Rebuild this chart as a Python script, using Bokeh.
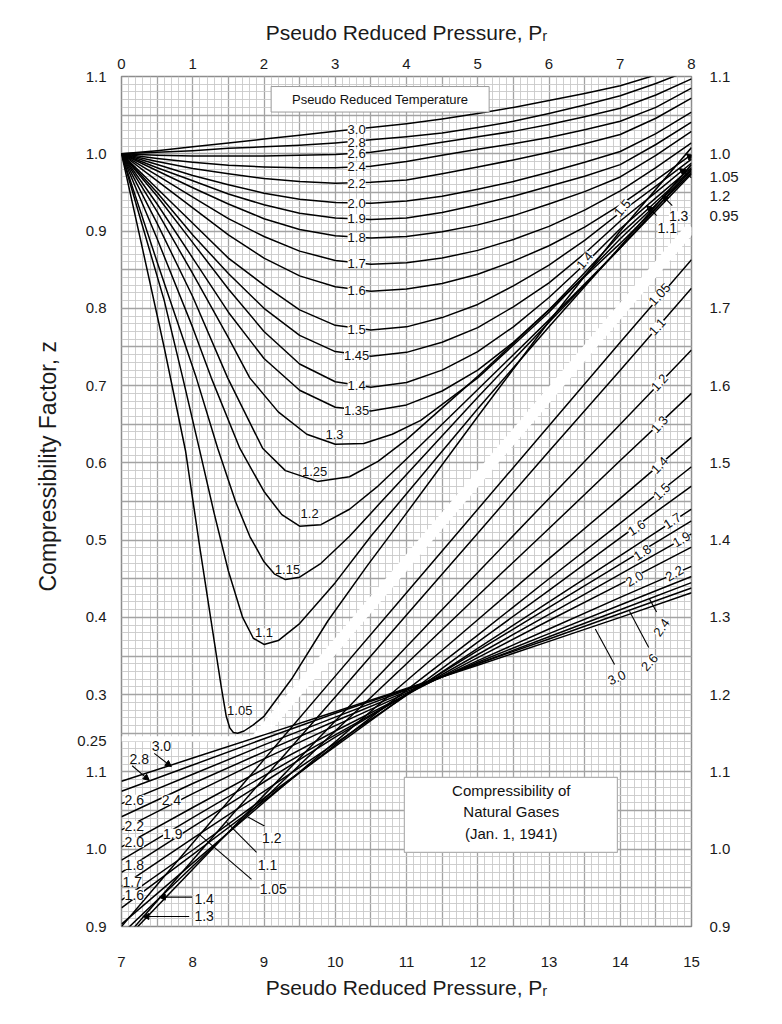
from bokeh.plotting import figure
from bokeh.models import (Range1d, FixedTicker, SingleIntervalTicker, LinearAxis, Grid, Title,
                          ColumnDataSource, LabelSet, Label, Arrow, NormalHead)
from bokeh.core.properties import value
from bokeh.embed import file_html
from bokeh.resources import INLINE

# ---------------- data: low pressure section (Pr 0-8, z on left scale) ----------------
P_LO = [0, 0.5, 1.0, 1.5, 2.0, 2.5, 3.0, 3.5, 4.0, 4.5, 5.0, 5.5, 6.0, 6.5, 7.0, 7.5, 8.0]
z_lo_300 = [1.0, 1.004, 1.009, 1.014, 1.019, 1.024, 1.029, 1.034, 1.039, 1.045, 1.052, 1.060, 1.069, 1.078, 1.088, 1.102, 1.118]
z_lo_280 = [1.0, 1.002, 1.004, 1.007, 1.009, 1.011, 1.014, 1.018, 1.022, 1.027, 1.034, 1.042, 1.052, 1.063, 1.075, 1.091, 1.109]
z_lo_260 = [1.0, 0.998, 0.997, 0.997, 0.997, 0.998, 0.999, 1.002, 1.008, 1.015, 1.022, 1.029, 1.038, 1.048, 1.059, 1.076, 1.097]
z_lo_240 = [1.0, 0.994, 0.989, 0.985, 0.983, 0.982, 0.982, 0.984, 0.990, 0.998, 1.006, 1.013, 1.021, 1.031, 1.042, 1.060, 1.085]
z_lo_220 = [1.0, 0.990, 0.981, 0.974, 0.968, 0.964, 0.962, 0.963, 0.966, 0.974, 0.983, 0.992, 1.002, 1.013, 1.025, 1.046, 1.072]
z_lo_200 = [1.0, 0.986, 0.972, 0.960, 0.949, 0.941, 0.937, 0.936, 0.939, 0.945, 0.954, 0.964, 0.976, 0.989, 1.003, 1.026, 1.054]
z_lo_190 = [1.0, 0.982, 0.965, 0.948, 0.934, 0.923, 0.917, 0.915, 0.917, 0.924, 0.934, 0.945, 0.958, 0.971, 0.986, 1.012, 1.041]
z_lo_180 = [1.0, 0.978, 0.956, 0.935, 0.916, 0.902, 0.894, 0.891, 0.893, 0.899, 0.908, 0.920, 0.935, 0.951, 0.970, 0.998, 1.029]
z_lo_170 = [1.0, 0.972, 0.944, 0.916, 0.893, 0.874, 0.862, 0.857, 0.859, 0.865, 0.875, 0.889, 0.906, 0.927, 0.952, 0.982, 1.014]
z_lo_160 = [1.0, 0.965, 0.930, 0.895, 0.865, 0.842, 0.828, 0.822, 0.825, 0.832, 0.844, 0.861, 0.881, 0.905, 0.934, 0.966, 0.999]
z_lo_150 = [1.0, 0.955, 0.910, 0.865, 0.830, 0.798, 0.778, 0.772, 0.776, 0.788, 0.805, 0.829, 0.856, 0.888, 0.924, 0.958, 0.993]
z_lo_145 = [1.0, 0.950, 0.895, 0.845, 0.800, 0.765, 0.744, 0.738, 0.743, 0.756, 0.775, 0.802, 0.833, 0.871, 0.913, 0.950, 0.988]
z_lo_140 = [1.0, 0.945, 0.885, 0.825, 0.770, 0.728, 0.705, 0.698, 0.704, 0.720, 0.744, 0.776, 0.814, 0.857, 0.903, 0.943, 0.982]
z_lo_135 = [1.0, 0.935, 0.865, 0.795, 0.735, 0.694, 0.672, 0.667, 0.675, 0.693, 0.720, 0.756, 0.798, 0.846, 0.896, 0.938, 0.980]

pr_lo_130 = [0, 0.5, 1.0, 1.5, 1.8, 2.2, 2.6, 3.0, 3.4, 3.8, 4.2, 5.0, 6.0, 7.0, 8.0]
z_lo_130 = [1.0, 0.925, 0.845, 0.762, 0.71, 0.666, 0.637, 0.624, 0.625, 0.637, 0.655, 0.710, 0.795, 0.890, 0.978]
pr_lo_125 = [0, 0.5, 1.0, 1.49, 1.98, 2.3, 2.75, 3.2, 3.6, 4.0, 5.0, 6.0, 7.0, 8.0]
z_lo_125 = [1.0, 0.91, 0.815, 0.71, 0.619, 0.59, 0.576, 0.582, 0.602, 0.63, 0.712, 0.798, 0.884, 0.976]
pr_lo_120 = [0, 0.5, 1.0, 1.26, 1.66, 2.0, 2.25, 2.5, 2.8, 3.2, 3.6, 4.0, 5.0, 6.0, 7.0, 8.0]
z_lo_120 = [1.0, 0.89, 0.775, 0.71, 0.619, 0.563, 0.533, 0.518, 0.52, 0.54, 0.57, 0.605, 0.695, 0.785, 0.878, 0.974]
pr_lo_115 = [0, 0.25, 0.5, 1.05, 1.35, 1.6, 1.8, 2.0, 2.15, 2.3, 2.5, 2.8, 3.2, 3.6, 4.0, 5.0, 6.0, 7.0, 8.0]
z_lo_115 = [1.0, 0.93, 0.86, 0.71, 0.619, 0.55, 0.505, 0.472, 0.456, 0.449, 0.452, 0.47, 0.505, 0.545, 0.585, 0.685, 0.782, 0.878, 0.98]
pr_lo_110 = [0, 0.3, 0.6, 0.86, 1.09, 1.3, 1.5, 1.7, 1.85, 2.0, 2.2, 2.5, 3.0, 3.5, 4.0, 5.0, 6.0, 7.0, 8.0]
z_lo_110 = [1.0, 0.905, 0.81, 0.71, 0.619, 0.535, 0.46, 0.40, 0.373, 0.365, 0.37, 0.392, 0.445, 0.505, 0.56, 0.67, 0.776, 0.88, 0.986]
pr_lo_105 = [0, 0.3, 0.6, 0.9, 1.1, 1.25, 1.4, 1.47, 1.52, 1.57, 1.63, 1.72, 1.85, 2.0, 2.4, 2.9, 3.45, 4.0, 5.0, 6.0, 7.0, 8.0]
z_lo_105 = [1.0, 0.875, 0.749, 0.615, 0.49, 0.40, 0.31, 0.272, 0.257, 0.251, 0.25, 0.253, 0.261, 0.272, 0.322, 0.396, 0.467, 0.535, 0.66, 0.783, 0.90, 1.008]

# ---------------- data: high pressure section (Pr 7-15, z on right / lower scale) ----------------
P_HI = [7, 8, 9, 10, 11, 12, 13, 14, 15]
z_hi_105 = [0.900, 1.008, 1.116, 1.224, 1.332, 1.440, 1.548, 1.656, 1.763]
z_hi_110 = [0.880, 0.986, 1.092, 1.197, 1.303, 1.409, 1.515, 1.620, 1.726]
z_hi_120 = [0.878, 0.974, 1.070, 1.166, 1.262, 1.358, 1.454, 1.550, 1.646]
z_hi_130 = [0.890, 0.978, 1.065, 1.153, 1.240, 1.328, 1.415, 1.503, 1.590]
z_hi_140 = [0.903, 0.982, 1.061, 1.139, 1.218, 1.297, 1.376, 1.454, 1.533]
z_hi_150 = [0.924, 0.993, 1.063, 1.135, 1.206, 1.277, 1.350, 1.422, 1.495]
z_hi_160 = [0.934, 0.999, 1.066, 1.133, 1.200, 1.268, 1.335, 1.403, 1.470]
z_hi_170 = [0.952, 1.014, 1.075, 1.137, 1.199, 1.260, 1.320, 1.380, 1.440]
z_hi_180 = [0.970, 1.029, 1.087, 1.145, 1.200, 1.257, 1.313, 1.369, 1.425]
z_hi_190 = [0.986, 1.041, 1.095, 1.148, 1.200, 1.252, 1.304, 1.356, 1.408]
z_hi_200 = [1.003, 1.054, 1.104, 1.153, 1.200, 1.248, 1.296, 1.343, 1.391]
z_hi_220 = [1.025, 1.072, 1.117, 1.160, 1.202, 1.244, 1.285, 1.326, 1.366]
z_hi_240 = [1.042, 1.085, 1.126, 1.166, 1.204, 1.242, 1.279, 1.316, 1.353]
z_hi_260 = [1.059, 1.097, 1.135, 1.171, 1.206, 1.240, 1.275, 1.310, 1.345]
z_hi_280 = [1.075, 1.109, 1.143, 1.176, 1.207, 1.240, 1.272, 1.305, 1.338]
z_hi_300 = [1.088, 1.118, 1.148, 1.178, 1.208, 1.238, 1.269, 1.300, 1.332]

# ---------------- tick labels ----------------
top_ticks = [0, 1, 2, 3, 4, 5, 6, 7, 8]
top_labels = ["0", "1", "2", "3", "4", "5", "6", "7", "8"]
bottom_labels = ["7", "8", "9", "10", "11", "12", "13", "14", "15"]
left_ticks = [0.0, 0.1, 0.2, 0.24, 0.3, 0.4, 0.5, 0.6, 0.7, 0.8, 0.9, 1.0, 1.1]
left_labels = ["0.9", "1.0", "1.1", "0.25", "0.3", "0.4", "0.5", "0.6", "0.7", "0.8", "0.9", "1.0", "1.1"]
right_ticks = [0.0, 0.1, 0.2, 0.3, 0.4, 0.5, 0.6, 0.7, 0.8, 0.92, 0.945, 0.97, 1.0, 1.1]
right_labels = ["0.9", "1.0", "1.1", "1.2", "1.3", "1.4", "1.5", "1.6", "1.7", "0.95", "1.2", "1.05", "1.0", "1.1"]

FONT = "Liberation Sans"
HI_OFFSET_X = 7.0   # high-pressure section: Pr 7..15 drawn on 0..8
HI_OFFSET_Y = 0.9   # high-pressure / lower scale: z 0.9 drawn at 0

p = figure(width=774, height=1012, output_backend="svg", toolbar_location=None,
           x_range=Range1d(0, 8), y_range=Range1d(0, 1.1),
           x_axis_location=None, y_axis_location=None,
           min_border_left=121, min_border_right=83, min_border_top=76, min_border_bottom=86)
p.background_fill_color = "white"
p.border_fill_color = "white"
p.outline_line_color = "#8c8c8c"
p.outline_line_width = 1.5
for g in p.grid:
    g.visible = False

gx = Grid(dimension=0, ticker=SingleIntervalTicker(interval=0.5, num_minor_ticks=5),
          grid_line_color="#a3a3a3", grid_line_width=1.3,
          minor_grid_line_color="#c9c9c9", minor_grid_line_width=0.9)
gy = Grid(dimension=1, ticker=SingleIntervalTicker(interval=0.05, num_minor_ticks=5),
          grid_line_color="#a3a3a3", grid_line_width=1.3,
          minor_grid_line_color="#c9c9c9", minor_grid_line_width=0.9)
p.add_layout(gx, "center")
p.add_layout(gy, "center")


def make_axis(ticks, labels, standoff, title=None, title_standoff=0):
    ax = LinearAxis(ticker=FixedTicker(ticks=ticks),
                    major_label_overrides=dict(zip(ticks, labels)))
    ax.axis_line_color = None
    ax.major_tick_line_color = None
    ax.minor_tick_line_color = None
    ax.major_label_text_font = FONT
    ax.major_label_text_font_size = "15px"
    ax.major_label_text_color = "#1a1a1a"
    ax.major_label_standoff = standoff
    if title:
        ax.axis_label = title
        ax.axis_label_text_font = FONT
        ax.axis_label_text_font_size = "21px"
        ax.axis_label_text_font_style = "normal"
        ax.axis_label_text_color = "#1a1a1a"
        ax.axis_label_standoff = title_standoff
    return ax


P_TITLE = "Pseudo Reduced Pressure, P\u1d63"
p.add_layout(make_axis(top_ticks, top_labels, 2, P_TITLE, 12), "above")
p.add_layout(make_axis(top_ticks, bottom_labels, 24, P_TITLE, 6), "below")
p.add_layout(make_axis(left_ticks, left_labels, 9), "left")
p.add_layout(make_axis(right_ticks, right_labels, 12), "right")
p.add_layout(Title(text="Compressibility Factor, z", align="left", offset=335, standoff=28,
                   text_font=FONT, text_font_size="23px", text_font_style="normal",
                   text_color="#1a1a1a"), "left")

# white gap bands of the original sheet
p.line([0, 1.9], [0.243, 0.243], line_color="white", line_width=5)
p.line([1.9, 8.0], [0.243, 0.905], line_color="white", line_width=11)

# curves
lo_curves = [
    (pr_lo_105, z_lo_105), (pr_lo_110, z_lo_110), (pr_lo_115, z_lo_115), (pr_lo_120, z_lo_120),
    (pr_lo_125, z_lo_125), (pr_lo_130, z_lo_130),
    (P_LO, z_lo_135), (P_LO, z_lo_140), (P_LO, z_lo_145), (P_LO, z_lo_150), (P_LO, z_lo_160),
    (P_LO, z_lo_170), (P_LO, z_lo_180), (P_LO, z_lo_190), (P_LO, z_lo_200), (P_LO, z_lo_220),
    (P_LO, z_lo_240), (P_LO, z_lo_260), (P_LO, z_lo_280), (P_LO, z_lo_300),
]
for xs, zs in lo_curves:
    p.line(xs, zs, line_color="black", line_width=1.5, line_join="round")

hi_curves = [z_hi_105, z_hi_110, z_hi_120, z_hi_130, z_hi_140, z_hi_150, z_hi_160, z_hi_170,
             z_hi_180, z_hi_190, z_hi_200, z_hi_220, z_hi_240, z_hi_260, z_hi_280, z_hi_300]
for zs in hi_curves:
    p.line([v - HI_OFFSET_X for v in P_HI], [v - HI_OFFSET_Y for v in zs],
           line_color="black", line_width=1.5, line_join="round")

# boxes
p.quad(left=[2.1], right=[5.16], bottom=[1.054], top=[1.087],
       fill_color="white", line_color="#9a9a9a", line_width=1)
p.quad(left=[3.97], right=[6.96], bottom=[0.096], top=[0.193],
       fill_color="white", line_color="#b0b0b0", line_width=1.2)

p.add_layout(Label(x=3.63, y=1.0705, text="Pseudo Reduced Temperature", text_font=FONT,
                   text_font_size="13px", text_align="center", text_baseline="middle",
                   text_color="#111111"))
for yy, tt in [(0.176, "Compressibility of"), (0.149, "Natural Gases"), (0.121, "(Jan. 1, 1941)")]:
    p.add_layout(Label(x=5.47, y=yy, text=tt, text_font=FONT, text_font_size="15px",
                       text_align="center", text_baseline="middle", text_color="#111111"))

# curve labels, upper section
up_txt = ["3.0", "2.8", "2.6", "2.4", "2.2", "2.0", "1.9", "1.8", "1.7", "1.6", "1.5", "1.45",
          "1.4", "1.35", "1.3", "1.25", "1.2", "1.15", "1.1", "1.05"]
up_x = [3.30, 3.30, 3.30, 3.30, 3.30, 3.30, 3.30, 3.30, 3.30, 3.30, 3.30, 3.30,
        3.30, 3.30, 2.99, 2.71, 2.64, 2.33, 2.0, 1.66]
up_y = [1.032, 1.015, 1.0, 0.983, 0.962, 0.936, 0.916, 0.892, 0.858, 0.823, 0.773, 0.739,
        0.700, 0.668, 0.637, 0.589, 0.534, 0.462, 0.380, 0.280]
p.add_layout(LabelSet(x="x", y="y", text="t",
                      source=ColumnDataSource(dict(x=up_x, y=up_y, t=up_txt)),
                      text_font=value(FONT), text_font_size=value("13px"), text_align="center",
                      text_baseline="middle", background_fill_color="white",
                      text_color="#111111"))

# rotated labels, high pressure section (right) and upper right
r_txt = ["1.05", "1.1", "1.2", "1.3", "1.4", "1.5", "1.6", "1.7", "1.8", "1.9", "2.0", "2.2",
         "2.4", "2.6", "3.0", "1.5", "1.4"]
r_x = [7.55, 7.52, 7.55, 7.55, 7.55, 7.58, 7.23, 7.73, 7.31, 7.86, 7.20, 7.76, 7.58, 7.41, 6.95, 7.03, 6.50]
r_y = [0.818, 0.776, 0.704, 0.650, 0.597, 0.563, 0.516, 0.525, 0.484, 0.501, 0.450, 0.457,
       0.387, 0.342, 0.322, 0.930, 0.862]
r_a = [48, 48, 48, 48, 46, 44, 33, 33, 33, 30, 30, 30, 55, 48, 25, 50, 50]
p.add_layout(LabelSet(x="x", y="y", text="t", angle="a", angle_units="deg",
                      source=ColumnDataSource(dict(x=r_x, y=r_y, t=r_txt, a=r_a)),
                      text_font=value(FONT), text_font_size=value("13px"), text_align="center",
                      text_baseline="middle", background_fill_color="white",
                      text_color="#111111"))

# labels lower-left section and upper-right arrows
l_txt = ["3.0", "2.8", "2.6", "2.4", "2.2", "2.0", "1.9", "1.8", "1.7", "1.6", "1.4", "1.3",
         "1.2", "1.1", "1.05", "1.3", "1.1"]
l_x = [0.56, 0.25, 0.18, 0.70, 0.18, 0.18, 0.72, 0.18, 0.15, 0.18, 1.16, 1.16, 2.11, 2.05, 2.13, 7.82, 7.66]
l_y = [0.234, 0.217, 0.164, 0.164, 0.130, 0.109, 0.120, 0.080, 0.058, 0.041, 0.035, 0.013,
       0.115, 0.080, 0.048, 0.919, 0.904]
p.add_layout(LabelSet(x="x", y="y", text="t",
                      source=ColumnDataSource(dict(x=l_x, y=l_y, t=l_txt)),
                      text_font=value(FONT), text_font_size=value("14px"), text_align="center",
                      text_baseline="middle", background_fill_color="white",
                      text_color="#111111"))

# leader lines (no head)
seg_x0 = [6.65, 7.13, 7.41, 2.007, 1.895, 1.825]
seg_y0 = [0.385, 0.408, 0.424, 0.130, 0.096, 0.061]
seg_x1 = [6.92, 7.40, 7.51, 1.768, 1.474, 1.095]
seg_y1 = [0.339, 0.361, 0.407, 0.142, 0.135, 0.119]
p.segment(seg_x1, seg_y1, seg_x0, seg_y0, line_color="black", line_width=1.1)

# leader arrows (with head)
arrows = [((0.46, 0.224), (0.70, 0.207)), ((0.15, 0.208), (0.39, 0.189)),
          ((0.99, 0.038), (0.53, 0.038)), ((0.95, 0.013), (0.30, 0.013)),
          ((7.73, 0.933), (7.59, 0.946)), ((7.51, 0.920), (7.37, 0.933)),
          ((8.0, 0.969), (7.83, 0.981)), ((8.0, 0.994), (7.93, 1.0))]
for (xa, ya), (xb, yb) in arrows:
    p.add_layout(Arrow(x_start=xa, y_start=ya, x_end=xb, y_end=yb, line_width=1.1,
                       end=NormalHead(size=6, fill_color="black", line_color="black")))

open("out.html", "w").write(file_html(p, INLINE))
